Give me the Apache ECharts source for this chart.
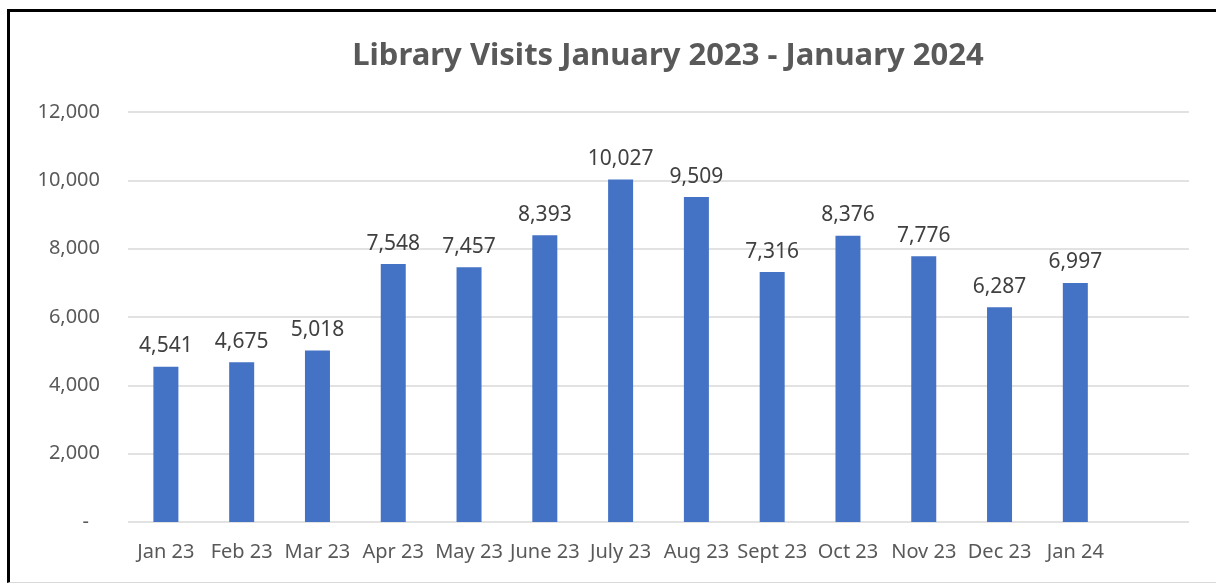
<!DOCTYPE html>
<html><head><meta charset="utf-8">
<script src="https://cdn.jsdelivr.net/npm/echarts@6/dist/echarts.min.js"></script>
<style>
html,body{margin:0;padding:0;background:#fff;}
#frame{position:absolute;left:7px;top:9px;width:1209px;height:574px;border-left:3px solid #000;border-top:3px solid #000;border-bottom:1px solid #d9d9d9;box-sizing:border-box;}
#c{position:absolute;left:0;top:0;width:1216px;height:585px;}
</style></head>
<body>
<div id="frame"></div>
<div id="c"></div>
<script>
const categories = ['Jan 23','Feb 23','Mar 23','Apr 23','May 23','June 23','July 23','Aug 23','Sept 23','Oct 23','Nov 23','Dec 23','Jan 24'];
const visits = [4541,4675,5018,7548,7457,8393,10027,9509,7316,8376,7776,6287,6997];
const yMin = 0, yMax = 12000, yStep = 2000;
const titleText = 'Library Visits January 2023 - January 2024';

const fnt = "'Noto Sans', 'Open Sans', sans-serif";
const chart = echarts.init(document.getElementById('c'), null, {renderer:'canvas'});
chart.setOption({
  animation:false,
  title:{text:titleText,left:663,top:36,textAlign:'center',
    textStyle:{fontFamily:fnt,fontSize:31,fontWeight:'bold',color:'#595959'}},
  grid:{left:128,right:27,top:112,height:410,containLabel:false},
  xAxis:{type:'category',data:categories.concat(['']),
    axisLine:{show:false},axisTick:{show:false},
    axisLabel:{fontFamily:fnt,fontSize:20,color:'#595959',margin:20,interval:0}},
  yAxis:{type:'value',min:yMin,max:yMax,interval:yStep,
    axisLine:{show:false},axisTick:{show:false},
    splitLine:{lineStyle:{color:'#d9d9d9',width:1.5}},
    axisLabel:{fontFamily:fnt,fontSize:20,color:'#595959',margin:28,
      formatter:v=>v===0?'{d|-}':v.toLocaleString('en-US'),
      rich:{d:{fontFamily:fnt,fontSize:20,color:'#595959',padding:[0,11,0,0]}}}},
  series:[{type:'bar',data:visits,barWidth:25,
    itemStyle:{color:'#4472C4'},
    label:{show:true,position:'top',distance:10,fontFamily:fnt,fontSize:21,color:'#404040',
      formatter:p=>p.value.toLocaleString('en-US')}}]
});
</script>
</body></html>
